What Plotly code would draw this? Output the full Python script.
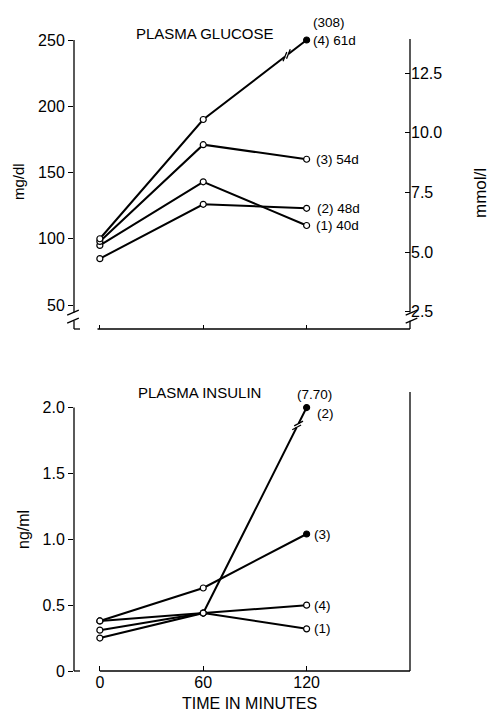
import math
import plotly.graph_objects as go

# ---------------- data ----------------
times = [0, 60, 120]
time_tick_text = ["0", "60", "120"]

glucose_names = ["(1) 40d", "(2) 48d", "(3) 54d", "(4) 61d"]
glucose_1 = [95, 143, 110]
glucose_2 = [85, 126, 123]
glucose_3 = [98, 171, 160]
glucose_4 = [100, 190, 308]
glucose_filled = [[0, 0, 0], [0, 0, 0], [0, 0, 0], [0, 0, 1]]

insulin_names = ["(1)", "(2)", "(3)", "(4)"]
insulin_1 = [0.31, 0.44, 0.32]
insulin_2 = [0.25, 0.44, 7.70]
insulin_3 = [0.38, 0.63, 1.04]
insulin_4 = [0.38, 0.44, 0.50]
insulin_filled = [[0, 0, 0], [0, 0, 1], [0, 0, 1], [0, 0, 0]]

glucose_tick_vals = [50, 100, 150, 200, 250]
mmol_tick_vals = [2.5, 5.0, 7.5, 10.0, 12.5]
insulin_tick_vals = [0, 0.5, 1.0, 1.5, 2.0]
insulin_tick_text = ["0", "0.5", "1.0", "1.5", "2.0"]

GLUCOSE_BREAK = 250.0   # values above are drawn at the broken top of the scale
INSULIN_BREAK = 2.0
MG_PER_MMOL = 18.0

# ---------------- geometry ----------------
W, H = 490, 713
FONT = "Liberation Sans"
X_RANGE = [-15, 180]
PX_L, PX_R = 74, 410
TOP = dict(yr=[31.9, 250.0], top=40, bot=329, xa="x", ya="y")
BOT = dict(yr=[0.0, 2.118], top=392, bot=671, xa="x2", ya="y3")


def to_px(p, x, y):
    px = PX_L + (x - X_RANGE[0]) / (X_RANGE[1] - X_RANGE[0]) * (PX_R - PX_L)
    py = p["bot"] - (y - p["yr"][0]) / (p["yr"][1] - p["yr"][0]) * (p["bot"] - p["top"])
    return px, py


shapes = []


def seg(x0, y0, x1, y1, width=1.3, color="black"):
    shapes.append(dict(type="line", xref="paper", yref="paper",
                       x0=x0 / W, y0=1 - y0 / H, x1=x1 / W, y1=1 - y1 / H,
                       line=dict(color=color, width=width)))


def axis_break(px, py, gap=8, dx=5.8, dy=2.5):
    for c in (py - gap / 2, py + gap / 2):
        seg(px - dx, c + dy, px + dx, c - dy, width=1.3)


def line_break(p, xa, ya, xb, yb, t, slash_angle_deg):
    ax, ay = to_px(p, xa, ya)
    bx, by = to_px(p, xb, yb)
    cx, cy = ax + t * (bx - ax), ay + t * (by - ay)
    L = math.hypot(bx - ax, by - ay)
    ux, uy = (bx - ax) / L, (by - ay) / L
    seg(cx - 2.2 * ux, cy - 2.2 * uy, cx + 2.2 * ux, cy + 2.2 * uy, width=4, color="white")
    a = math.radians(slash_angle_deg)
    vx, vy = math.cos(a), -math.sin(a)
    for s in (-2.2, 2.2):
        mx, my = cx + s * ux, cy + s * uy
        seg(mx - 5 * vx, my - 5 * vy, mx + 5 * vx, my + 5 * vy, width=1.3)


fig = go.Figure()

# ---------------- glucose panel ----------------
glucose_series = [glucose_1, glucose_2, glucose_3, glucose_4]
for vals in glucose_series:
    fig.add_trace(go.Scatter(x=times, y=[min(v, GLUCOSE_BREAK) for v in vals], mode="lines",
                             line=dict(color="black", width=2), xaxis="x", yaxis="y",
                             hoverinfo="skip", showlegend=False, cliponaxis=False))
for vals, filled in zip(glucose_series, glucose_filled):
    fig.add_trace(go.Scatter(x=times, y=[min(v, GLUCOSE_BREAK) for v in vals], mode="markers",
                             marker=dict(size=6, color=["black" if f else "white" for f in filled],
                                         line=dict(color="black", width=1.2)),
                             xaxis="x", yaxis="y", showlegend=False, cliponaxis=False))
# right-hand mmol/l scale
fig.add_trace(go.Scatter(x=times, y=[v / MG_PER_MMOL for v in glucose_2], mode="none",
                         xaxis="x", yaxis="y2", showlegend=False, hoverinfo="skip"))

# ---------------- insulin panel ----------------
insulin_series = [insulin_1, insulin_2, insulin_3, insulin_4]
for vals in insulin_series:
    fig.add_trace(go.Scatter(x=times, y=[min(v, INSULIN_BREAK) for v in vals], mode="lines",
                             line=dict(color="black", width=2), xaxis="x2", yaxis="y3",
                             hoverinfo="skip", showlegend=False, cliponaxis=False))
for vals, filled in zip(insulin_series, insulin_filled):
    fig.add_trace(go.Scatter(x=times, y=[min(v, INSULIN_BREAK) for v in vals], mode="markers",
                             marker=dict(size=6, color=["black" if f else "white" for f in filled],
                                         line=dict(color="black", width=1.2)),
                             xaxis="x2", yaxis="y3", showlegend=False, cliponaxis=False))

# ---------------- axis lines with breaks ----------------
lx, rx = PX_L, PX_R
seg(lx, TOP["top"], lx, 312.5)
seg(lx, 320.8, lx, TOP["bot"])
axis_break(lx - 1, 316.7)
seg(lx, TOP["bot"], 80, TOP["bot"])
seg(97.5, TOP["bot"], rx, TOP["bot"])
seg(rx, TOP["top"] - 1, rx, 312.5)
seg(rx, 320.8, rx, TOP["bot"])
axis_break(rx + 1.5, 316.7)
y2px = to_px(BOT, 0, insulin_tick_vals[-1])[1]
seg(lx, y2px, lx, BOT["bot"])
seg(lx, BOT["bot"], 80, BOT["bot"])
seg(to_px(BOT, times[0], 0)[0], BOT["bot"], rx, BOT["bot"])
seg(rx, BOT["top"], rx, BOT["bot"])

line_break(TOP, times[1], glucose_4[1], times[2], GLUCOSE_BREAK, 0.807, 68)
line_break(BOT, times[1], insulin_2[1], times[2], INSULIN_BREAK, 0.913, 28)

# ---------------- annotations ----------------
ann = []


def txt(x, y, text, size, xanchor="left", xref="paper", yref="paper", xshift=0, yshift=0, angle=0):
    ann.append(dict(x=x, y=y, xref=xref, yref=yref, text=text, showarrow=False,
                    xanchor=xanchor, yanchor="middle", xshift=xshift, yshift=yshift,
                    textangle=angle, font=dict(family=FONT, size=size, color="black")))


txt(134 / W, 1 - 33.5 / H, "PLASMA GLUCOSE", 15)
txt(136 / W, 1 - 392 / H, "PLASMA INSULIN", 15)
txt(249 / W, 1 - 703 / H, "TIME IN MINUTES", 16, xanchor="center")
txt(19 / W, 1 - 182 / H, "mg/dl", 15, xanchor="center", angle=-90)
txt(480 / W, 1 - 193 / H, "mmol/l", 17, xanchor="center", angle=-90)
txt(23 / W, 1 - 530 / H, "ng/ml", 16, xanchor="center", angle=-90)

g_shift = [7, 8, 7, 4]
for name, vals, xs in zip(glucose_names, glucose_series, g_shift):
    txt(times[2], min(vals[2], GLUCOSE_BREAK), name, 13.5, xref="x", yref="y", xshift=xs)
txt(times[2], GLUCOSE_BREAK, "(%d)" % glucose_4[2], 13.5, xref="x", yref="y", xshift=4, yshift=18)

i_shift = [(5, 0), (8, -6), (5, 0), (5, 0)]
for name, vals, (xs, ys) in zip(insulin_names, insulin_series, i_shift):
    txt(times[2], min(vals[2], INSULIN_BREAK), name, 13.5, xref="x2", yref="y3", xshift=xs, yshift=ys)
txt(times[2], INSULIN_BREAK, "(%.2f)" % insulin_2[2], 13.5, xanchor="center",
    xref="x2", yref="y3", xshift=8, yshift=13)

# ---------------- layout ----------------
tickfont = dict(family=FONT, size=16, color="black")
common = dict(showline=False, showgrid=False, zeroline=False, tickcolor="black", tickwidth=1.3,
              tickfont=tickfont, automargin=False)
fig.update_layout(
    width=W, height=H, autosize=False,
    margin=dict(l=0, r=0, t=0, b=0, pad=0),
    paper_bgcolor="white", plot_bgcolor="white",
    showlegend=False,
    xaxis=dict(domain=[PX_L / W, PX_R / W], range=X_RANGE, anchor="y", ticks="inside", ticklen=4,
               tickvals=times, showticklabels=False, **common),
    yaxis=dict(domain=[1 - TOP["bot"] / H, 1 - TOP["top"] / H], range=TOP["yr"], anchor="x",
               ticks="outside", ticklen=5, tickvals=glucose_tick_vals, **common),
    yaxis2=dict(overlaying="y", side="right", anchor="x",
                range=[v / MG_PER_MMOL for v in TOP["yr"]], ticks="inside", ticklen=5,
                tickvals=mmol_tick_vals, ticktext=["%.1f" % v for v in mmol_tick_vals], **common),
    xaxis2=dict(domain=[PX_L / W, PX_R / W], range=X_RANGE, anchor="y3", ticks="inside", ticklen=5,
                tickvals=times, ticktext=time_tick_text, **common),
    yaxis3=dict(domain=[1 - BOT["bot"] / H, 1 - BOT["top"] / H], range=BOT["yr"], anchor="x2",
                ticks="outside", ticklen=5, tickvals=insulin_tick_vals, ticktext=insulin_tick_text,
                **common),
    shapes=shapes,
    annotations=ann,
)

fig.write_html("out.html", config={"displayModeBar": False},
               post_script="document.body.style.margin='0';document.body.style.overflow='hidden';")
